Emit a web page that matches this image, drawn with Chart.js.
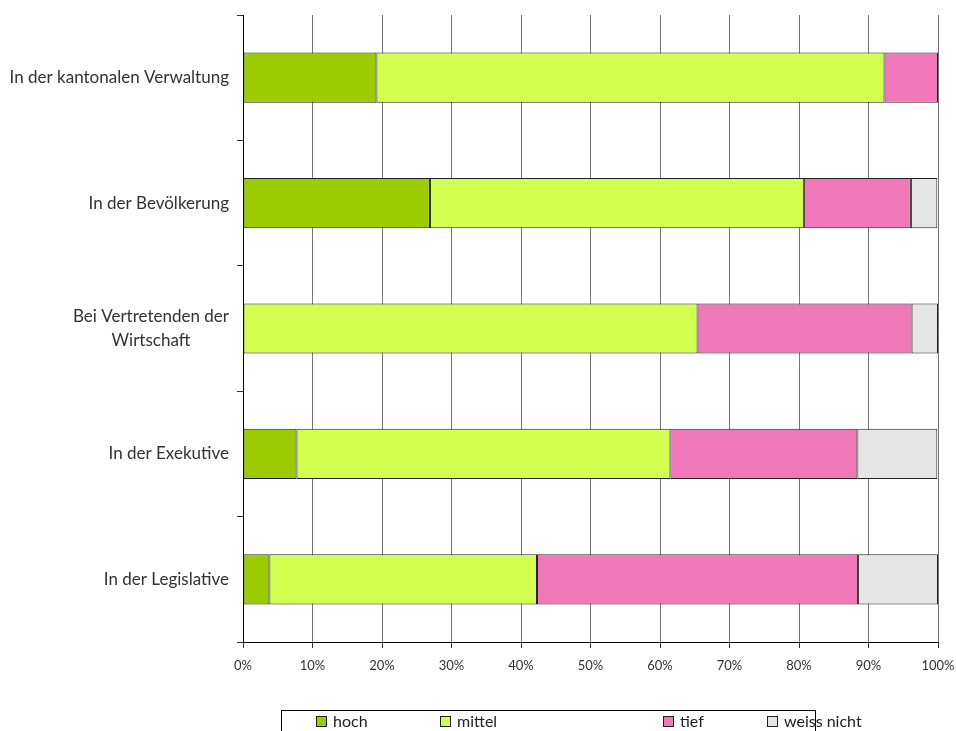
<!DOCTYPE html>
<html>
<head>
<meta charset="utf-8">
<script src="https://cdn.jsdelivr.net/npm/chart.js@4"></script>
<style>
  html, body { margin: 0; padding: 0; background: #fff; }
  #wrap { width: 956px; height: 731px; }
</style>
</head>
<body>
<div id="wrap"><canvas id="chart" width="956" height="731"></canvas></div>
<script>
// Kategorien (von oben nach unten)
var categories = [
  ["In der kantonalen Verwaltung"],
  ["In der Bevölkerung"],
  ["Bei Vertretenden der", "Wirtschaft"],
  ["In der Exekutive"],
  ["In der Legislative"]
];

// Anteile in Prozent
var hoch       = [19.2, 26.9, 0.0, 7.7, 3.8];
var mittel     = [73.1, 53.8, 65.4, 53.8, 38.5];
var tief       = [7.7, 15.4, 30.8, 26.9, 46.2];
var weissNicht = [0.0, 3.8, 3.8, 11.5, 11.5];

var seriesNames = ["hoch", "mittel", "tief", "weiss nicht"];
var colors = ["#9acc00", "#d2ff50", "#f078b9", "#e5e5e5"];
var xTicks = [0, 10, 20, 30, 40, 50, 60, 70, 80, 90, 100];

var FONT = "Lato, 'Open Sans', sans-serif";

// Beschriftungen der Kategorien selbst zeichnen (mehrzeilig zentriert)
var yLabelPlugin = {
  id: 'yLabels',
  afterDraw: function (chart) {
    var ctx = chart.ctx;
    var y = chart.scales.y;
    ctx.save();
    ctx.font = "17px " + FONT;
    ctx.fillStyle = "#333";
    ctx.textBaseline = "middle";
    ctx.textAlign = "center";
    categories.forEach(function (lines, i) {
      var py = y.getPixelForValue(i);
      var w = Math.max.apply(null, lines.map(function (l) { return ctx.measureText(l).width; }));
      var cx = 229 - w / 2;
      var lh = 24;
      var start = py - (lines.length - 1) * lh / 2;
      lines.forEach(function (l, k) {
        ctx.fillText(l, cx, start + k * lh);
      });
    });
    ctx.restore();
  }
};

// Legende mit Rahmen unten
var legendPlugin = {
  id: 'boxLegend',
  afterDraw: function (chart) {
    var ctx = chart.ctx;
    ctx.save();
    ctx.strokeStyle = "#000";
    ctx.lineWidth = 1;
    ctx.strokeRect(281.5, 710.5, 534, 30);
    var xs = [316, 440, 663, 767];
    ctx.font = "16px " + FONT;
    ctx.textBaseline = "middle";
    ctx.textAlign = "left";
    chart.data.datasets.forEach(function (ds, i) {
      ctx.fillStyle = ds.backgroundColor;
      ctx.fillRect(xs[i] + 0.5, 716.5, 10, 10);
      ctx.strokeStyle = "#222";
      ctx.strokeRect(xs[i] + 0.5, 716.5, 10, 10);
      ctx.fillStyle = "#222";
      ctx.fillText(ds.label, xs[i] + 17, 722);
    });
    ctx.restore();
  }
};

var values = [hoch, mittel, tief, weissNicht];

new Chart(document.getElementById('chart').getContext('2d'), {
  type: 'bar',
  data: {
    labels: categories.map(function (c) { return c.join(' '); }),
    datasets: values.map(function (v, i) {
      return {
        label: seriesNames[i],
        data: v,
        backgroundColor: colors[i],
        borderColor: "#222",
        borderWidth: 1,
        borderSkipped: false,
        barPercentage: 0.4,
        categoryPercentage: 1.0
      };
    })
  },
  options: {
    indexAxis: 'y',
    responsive: false,
    animation: false,
    layout: { padding: { top: 15, right: 18, left: 0, bottom: 0 } },
    plugins: {
      legend: { display: false },
      tooltip: { enabled: false }
    },
    scales: {
      x: {
        stacked: true,
        min: 0,
        max: 100,
        afterBuildTicks: function (scale) {
          scale.ticks = xTicks.map(function (v) { return { value: v }; });
        },
        afterFit: function (scale) {
          scale.height = 89;
          scale.paddingLeft = 0;
          scale.paddingRight = 0;
        },
        grid: {
          color: "#777",
          lineWidth: 1,
          drawTicks: true,
          tickLength: 6,
          tickColor: "#333"
        },
        border: { display: true, color: "#000", width: 1 },
        ticks: {
          color: "#333",
          font: { family: FONT, size: 13 },
          padding: 10,
          maxRotation: 0,
          callback: function (v) { return v + '%'; }
        }
      },
      y: {
        stacked: true,
        afterFit: function (scale) { scale.width = 243; },
        grid: {
          offset: true,
          drawOnChartArea: false,
          drawTicks: true,
          tickLength: 6,
          tickColor: "#333"
        },
        border: { display: true, color: "#000", width: 1 },
        ticks: { display: false }
      }
    }
  },
  plugins: [yLabelPlugin, legendPlugin]
});
</script>
</body>
</html>
